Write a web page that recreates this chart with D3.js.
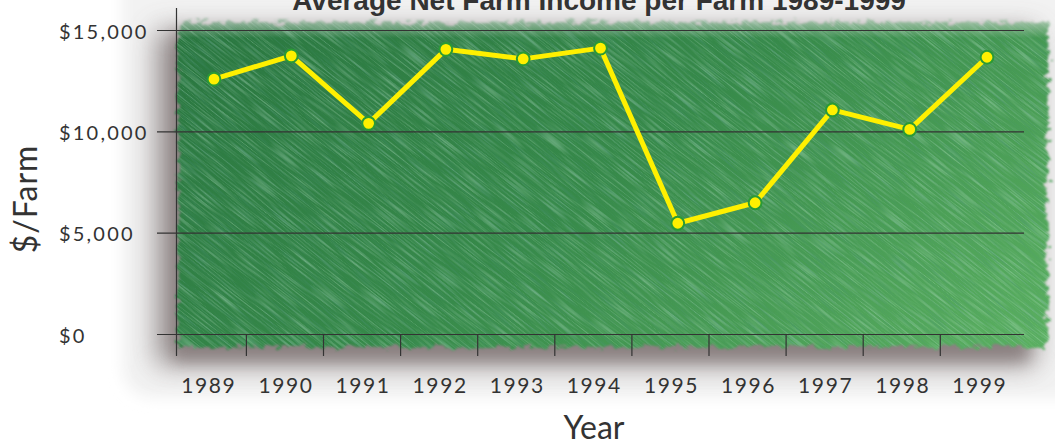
<!DOCTYPE html>
<html><head><meta charset="utf-8">
<script src="https://cdn.jsdelivr.net/npm/d3@7"></script>
<style>
html,body{margin:0;padding:0;background:#fff;}
svg{display:block;}
</style></head>
<body>
<svg id="chart" width="1055" height="442"></svg>
<script>
const years = ["1989","1990","1991","1992","1993","1994","1995","1996","1997","1998","1999"];
const incomePerFarm = [12600, 13750, 10420, 14070, 13600, 14130, 5490, 6500, 11080, 10120, 13680];
const yTickValues = [0, 5000, 10000, 15000];
const yTickLabels = ["$0", "$5,000", "$10,000", "$15,000"];
const titleText = "Average Net Farm Income per Farm 1989-1999";
const xTitle = "Year";
const yTitle = "$/Farm";

const svg = d3.select("#chart");
const defs = svg.append("defs");

// scales
const x = d3.scaleBand().domain(years).range([169.3, 1017.4]);
const xp = d3.scalePoint().domain(years).range([214, 987]);
const y = d3.scaleLinear().domain([0, 15000]).range([334.5, 30.5]);

const plot = {x0: 178, x1: 1048, y0: 22, y1: 347};

// ---- defs ----
const blurBig = defs.append("filter").attr("id","blurBig").attr("x","-20%").attr("y","-30%").attr("width","140%").attr("height","160%");
blurBig.append("feGaussianBlur").attr("stdDeviation", 14);
const blurMid = defs.append("filter").attr("id","blurMid").attr("x","-20%").attr("y","-30%").attr("width","140%").attr("height","160%");
blurMid.append("feGaussianBlur").attr("stdDeviation", 7);

const rough = defs.append("filter").attr("id","rough").attr("x","-5%").attr("y","-10%").attr("width","110%").attr("height","120%");
rough.append("feTurbulence").attr("type","fractalNoise").attr("baseFrequency","0.12 0.18").attr("numOctaves",3).attr("seed",4).attr("result","n");
rough.append("feDisplacementMap").attr("in","SourceGraphic").attr("in2","n").attr("scale",14).attr("xChannelSelector","R").attr("yChannelSelector","G").attr("result","d");
rough.append("feGaussianBlur").attr("in","d").attr("stdDeviation",1.2);

const edgeMask = defs.append("mask").attr("id","edgeMask").attr("maskUnits","userSpaceOnUse")
  .attr("x",0).attr("y",0).attr("width",1055).attr("height",442);
edgeMask.append("rect").attr("x",plot.x0).attr("y",plot.y0).attr("width",plot.x1 - plot.x0).attr("height",plot.y1 - plot.y0)
  .attr("fill","#fff").attr("filter","url(#rough)");

const grad = defs.append("linearGradient").attr("id","greenGrad")
  .attr("gradientUnits","userSpaceOnUse")
  .attr("x1", plot.x0 + 100).attr("y1", plot.y0 - 60).attr("x2", plot.x1 - 250).attr("y2", plot.y1 + 260);
grad.append("stop").attr("offset","0%").attr("stop-color","#2a7740");
grad.append("stop").attr("offset","45%").attr("stop-color","#378a4a");
grad.append("stop").attr("offset","100%").attr("stop-color","#5fb463");

const streak = defs.append("filter").attr("id","streak").attr("x","0").attr("y","0").attr("width","100%").attr("height","100%");
streak.append("feTurbulence").attr("type","fractalNoise").attr("baseFrequency","0.025 0.7").attr("numOctaves",1).attr("seed",9).attr("result","t");
streak.append("feColorMatrix").attr("in","t").attr("type","matrix")
  .attr("values","0 0 0 0 0.5  0 0 0 0 0.78  0 0 0 0 0.62  2.6 0 0 0 -1.2");

const streak2 = defs.append("filter").attr("id","streak2").attr("x","0").attr("y","0").attr("width","100%").attr("height","100%");
streak2.append("feTurbulence").attr("type","fractalNoise").attr("baseFrequency","0.03 0.8").attr("numOctaves",1).attr("seed",21).attr("result","t");
streak2.append("feColorMatrix").attr("in","t").attr("type","matrix")
  .attr("values","0 0 0 0 0.08  0 0 0 0 0.3  0 0 0 0 0.22  2.6 0 0 0 -1.25");

// ---- background ----
svg.append("rect").attr("width",1055).attr("height",442).attr("fill","#ffffff");
// light backdrop
svg.append("rect").attr("x",122).attr("y",-40).attr("width",980).attr("height",438).attr("rx",30)
  .attr("fill","#f2f2f2").attr("filter","url(#blurMid)");
// shadow
svg.append("rect").attr("x",plot.x0 - 22).attr("y",plot.y0 + 8).attr("width",plot.x1 - plot.x0 + 10).attr("height",plot.y1 - plot.y0 + 10)
  .attr("fill","#6e6464").attr("opacity",0.7).attr("filter","url(#blurBig)");
svg.append("rect").attr("x",plot.x0 - 4).attr("y",plot.y0 + 10).attr("width",plot.x1 - plot.x0 - 16).attr("height",plot.y1 - plot.y0 + 4)
  .attr("fill","#7d7070").attr("opacity",0.55).attr("filter","url(#blurMid)");

// green textured area (edges roughened through mask only)
const green = svg.append("g").attr("mask","url(#edgeMask)");
const pad = 20;
green.append("rect").attr("x",plot.x0 - pad).attr("y",plot.y0 - pad).attr("width",plot.x1 - plot.x0 + 2*pad).attr("height",plot.y1 - plot.y0 + 2*pad)
  .attr("fill","url(#greenGrad)");
const cx = (plot.x0 + plot.x1)/2, cy = (plot.y0 + plot.y1)/2;
green.append("g").attr("transform",`rotate(38 ${cx} ${cy})`)
  .append("rect").attr("x",cx - 650).attr("y",cy - 500).attr("width",1300).attr("height",1000)
  .attr("filter","url(#streak)").attr("opacity",0.45);
green.append("g").attr("transform",`rotate(41 ${cx} ${cy})`)
  .append("rect").attr("x",cx - 650).attr("y",cy - 500).attr("width",1300).attr("height",1000)
  .attr("filter","url(#streak2)").attr("opacity",0.4);
// pale top fringe
const topGrad = defs.append("linearGradient").attr("id","topFade").attr("x1",0).attr("y1",0).attr("x2",0).attr("y2",1);
topGrad.append("stop").attr("offset","0%").attr("stop-color","#d5dad5").attr("stop-opacity",0.9);
topGrad.append("stop").attr("offset","100%").attr("stop-color","#d5dad5").attr("stop-opacity",0);
green.append("rect").attr("x",plot.x0 - pad).attr("y",plot.y0 - 8).attr("width",plot.x1-plot.x0 + 2*pad).attr("height",24).attr("fill","url(#topFade)");

// ---- grid & axes ----
const axisColor = "#333";
svg.append("g").selectAll("line.grid").data(yTickValues).join("line")
  .attr("x1",157).attr("x2",1024).attr("y1",d => y(d)).attr("y2",d => y(d))
  .attr("stroke",axisColor).attr("stroke-width",1.2);
svg.append("line").attr("x1",176.5).attr("x2",176.5).attr("y1",8).attr("y2",356)
  .attr("stroke",axisColor).attr("stroke-width",1.2);
svg.append("g").selectAll("line.xt").data(years.slice(1)).join("line")
  .attr("x1",d => x(d)).attr("x2",d => x(d)).attr("y1",y(0)).attr("y2",356)
  .attr("stroke",axisColor).attr("stroke-width",1.2);

// y labels
svg.append("g").selectAll("text").data(yTickValues).join("text")
  .attr("x",59).attr("y",d => y(d) + 8)
  .attr("font-family","Lato, 'Open Sans', sans-serif").attr("font-size",20).attr("letter-spacing",2.2)
  .attr("fill","#333").text((d,i) => yTickLabels[i]);

// x labels
svg.append("g").selectAll("text").data(years).join("text")
  .attr("x",d => x(d) + x.bandwidth()/2 + 1).attr("y",393).attr("text-anchor","middle")
  .attr("font-family","Lato, 'Open Sans', sans-serif").attr("font-size",21).attr("letter-spacing",1.6)
  .attr("fill","#333").text(d => d);

// axis titles
svg.append("text").attr("x",594).attr("y",439).attr("text-anchor","middle")
  .attr("font-family","Lato, 'Open Sans', sans-serif").attr("font-size",32)
  .attr("fill","#333").text(xTitle);
svg.append("text").attr("transform","translate(37,199) rotate(-90)").attr("text-anchor","middle")
  .attr("font-family","Lato, 'Open Sans', sans-serif").attr("font-size",32).attr("letter-spacing",1)
  .attr("fill","#333").text(yTitle);

// title
svg.append("text").attr("x",599).attr("y",9.5).attr("text-anchor","middle")
  .attr("font-family","'Liberation Sans', Arial, sans-serif").attr("font-weight","bold").attr("font-size",28)
  .attr("fill","#333").text(titleText);

// ---- line + markers ----
const pts = years.map((yr,i) => ({yr, v: incomePerFarm[i]}));
svg.append("path").datum(pts)
  .attr("d", d3.line().x(d => xp(d.yr)).y(d => y(d.v)))
  .attr("fill","none").attr("stroke","#fff000").attr("stroke-width",5).attr("stroke-linejoin","round");
svg.append("g").selectAll("circle").data(pts).join("circle")
  .attr("cx",d => xp(d.yr)).attr("cy",d => y(d.v)).attr("r",6.4)
  .attr("fill","#fff000").attr("stroke","#2a9a35").attr("stroke-width",2);
</script>
</body></html>
